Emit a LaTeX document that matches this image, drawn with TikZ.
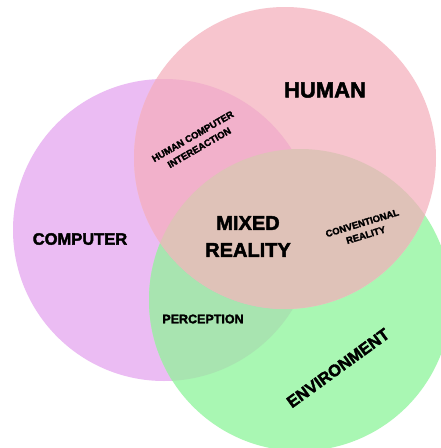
\documentclass[tikz,border=0pt]{standalone}
\usepackage{fontspec}
\setmainfont{Liberation Sans}[BoldFeatures={FakeBold=2.3}]
\definecolor{cviolet}{HTML}{EBBCF3}
\definecolor{cpink}{HTML}{F7C5CE}
\definecolor{cgreen}{HTML}{A9F7B3}
\definecolor{cvp}{HTML}{F2B1CB}
\definecolor{cvg}{HTML}{A8E4B0}
\definecolor{cpg}{HTML}{DFC2B8}
\begin{document}
\begin{tikzpicture}[x=1pt,y=-1pt,
  lbl/.style={font=\bfseries, inner sep=0pt, align=center, text=black},
  disc/.style={radius=151pt}]
\useasboundingbox (0,0) rectangle (441,448);
\fill[white] (0,0) rectangle (441,448);
\coordinate (cv) at (164,230);
\coordinate (cp) at (285,158);
\coordinate (cg) at (300,300);
% base discs
\fill[cviolet] (cv) circle[disc];
\fill[cgreen] (cg) circle[disc];
\fill[cpink] (cp) circle[disc];
% overlaps
\begin{scope}
  \clip (cv) circle[disc];
  \fill[cvg] (cg) circle[disc];
  \fill[cvp] (cp) circle[disc];
\end{scope}
\begin{scope}
  \clip (cg) circle[disc];
  \fill[cpg] (cp) circle[disc];
\end{scope}
% labels
\node[lbl, font=\bfseries\fontsize{22}{24}\selectfont] (human) at (325,90) {HUMAN};
\node[lbl, font=\bfseries\fontsize{16.5}{18}\selectfont] (computer) at (80,239) {COMPUTER};
\node[lbl, font=\bfseries\fontsize{20}{27}\selectfont] (mixed) at (248,236.5) {MIXED\\REALITY};
\node[lbl, font=\bfseries\fontsize{12.5}{14}\selectfont] (perception) at (203,319) {PERCEPTION};
\node[lbl, font=\bfseries\fontsize{16.5}{18}\selectfont, rotate=36] (environment) at (338,368) {ENVIRONMENT};
\node[lbl, font=\bfseries\fontsize{9.5}{13}\selectfont, rotate=30] (hci) at (196,142) {HUMAN COMPUTER\\INTEREACTION};
\node[lbl, font=\bfseries\fontsize{9.5}{12.5}\selectfont, rotate=17] (conv) at (364,229) {CONVENTIONAL\\REALITY};
\end{tikzpicture}
\end{document}
